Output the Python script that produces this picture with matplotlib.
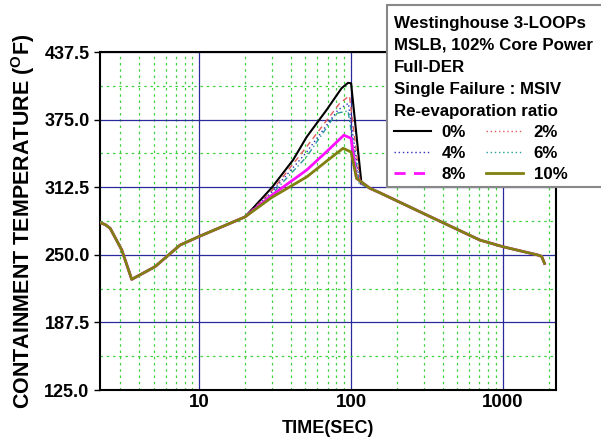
import matplotlib
matplotlib.use("Agg")
import matplotlib.pyplot as plt
from matplotlib.lines import Line2D
from matplotlib.patches import Rectangle
from matplotlib.ticker import FixedLocator, NullFormatter, FormatStrFormatter

plt.rcParams['font.family'] = ['Liberation Sans', 'DejaVu Sans']
plt.rcParams['font.weight'] = 'bold'
plt.rcParams['mathtext.fontset'] = 'custom'
plt.rcParams['mathtext.rm'] = 'Liberation Sans:bold'
plt.rcParams['mathtext.bf'] = 'Liberation Sans:bold'

# shared part before the curves split (sec, F)
t_early = [2.22, 2.4, 2.59, 3.09, 3.59, 5.11, 7.47, 10, 20]
temp_early = [279.7, 278, 274.5, 254.4, 227.3, 239, 259, 267, 285]

# shared part after the collapse
t_late = [133, 154.5, 298, 703, 1000, 1699, 1800, 1880]
temp_late = [311.5, 307.4, 288.4, 263.7, 257.5, 249.8, 248.5, 242]

# transient for each re-evaporation ratio
t_0 = [30, 41.5, 51, 69, 86.5, 95.5, 100, 117]
temp_0 = [312, 337.7, 359, 384, 404, 409, 408.6, 316]
t_2 = [30, 51, 84, 97.5, 115]
temp_2 = [309, 350, 390, 397, 316]
t_4 = [30, 51, 82, 96, 114]
temp_4 = [308, 345, 384, 390, 316]
t_6 = [30, 51, 80, 95.5, 113]
temp_6 = [306, 340.7, 380.8, 383, 316]
t_8 = [30, 51, 69, 89.6, 100, 108.6]
temp_8 = [305, 328.4, 345.4, 360.6, 357.7, 320.7]
t_10 = [30, 51, 72.5, 88.6, 100, 108.6]
temp_10 = [303, 322, 339, 348.5, 345, 320.7]

labels = ['0%', '2%', '4%', '6%', '8%', '10%']
cases = [(t_0, temp_0), (t_2, temp_2), (t_4, temp_4),
         (t_6, temp_6), (t_8, temp_8), (t_10, temp_10)]

colors = ['black', '#e05a5a', '#3030c0', '#2a9a9a', '#ff10ff', '#808010']
plot_styles = ['-', (0, (4, 3)), (0, (1, 2)), (0, (4, 2, 1, 2)), '-', '-']
leg_styles = ['-', (0, (1, 2)), (0, (1, 2)), (0, (1, 2)), (0, (4, 3)), '-']
widths = [1.5, 1.0, 1.0, 1.0, 2.0, 2.0]

W, H = 601, 443
fig = plt.figure(figsize=(W / 100, H / 100), dpi=100)
ax = fig.add_axes([0.1664, 0.1196, 0.7587, 0.763])

for i in range(6):
    tt, vv = cases[i]
    x = t_early + tt + t_late
    y = temp_early + vv + temp_late
    ax.plot(x, y, color=colors[i], linestyle=plot_styles[i], lw=widths[i], zorder=3)

ax.set_xscale('log')
ax.set_xlim(2.22, 2236)
ax.set_ylim(125, 437.5)

ax.set_yticks([125, 187.5, 250, 312.5, 375, 437.5])
ax.yaxis.set_major_formatter(FormatStrFormatter('%.1f'))
ax.yaxis.set_minor_locator(FixedLocator([156.25, 218.75, 281.25, 343.75, 406.25]))

ax.xaxis.set_major_locator(FixedLocator([10, 100, 1000]))
ax.xaxis.set_major_formatter(FormatStrFormatter('%d'))
minor_x = [3, 4, 5, 6, 7, 8, 9, 20, 30, 40, 50, 60, 70, 80, 90,
           200, 300, 400, 500, 600, 700, 800, 900, 2000]
ax.xaxis.set_minor_locator(FixedLocator(minor_x))
ax.xaxis.set_minor_formatter(NullFormatter())

ax.grid(True, which='major', color='#2a2a9a', lw=0.9, zorder=1)
ax.grid(True, which='minor', color='#40d040', lw=0.9, linestyle=(0, (2, 3)), zorder=1)

ax.tick_params(axis='y', which='major', direction='out', length=4, labelsize=13, width=1)
ax.tick_params(axis='y', which='minor', length=0)
ax.tick_params(axis='x', which='both', length=0, labelsize=13.5, pad=3)
for lab in ax.get_xticklabels() + ax.get_yticklabels():
    lab.set_fontweight('bold')

for s in ax.spines.values():
    s.set_linewidth(1.5)
    s.set_color('black')

ax.set_xlabel('TIME(SEC)', fontsize=13, fontweight='bold', labelpad=6)
ax.set_ylabel(r'CONTAINMENT TEMPERATURE ($\mathregular{^O}$F)', fontsize=15.5,
              fontweight='bold', labelpad=5)

# legend frame drawn by hand (runs off the right edge like the original)
box = Rectangle((387 / W, 1 - 187 / H), 0.4, 182 / H, transform=fig.transFigure,
                facecolor='white', edgecolor='#888888', lw=1.5, zorder=4)
fig.patches.append(box)

# row-wise legend: column 1 = 0/4/8, column 2 = 2/6/10
leg_order = [0, 2, 4, 1, 3, 5]
handles = [Line2D([], [], color=colors[i], linestyle=leg_styles[i], lw=widths[i])
           for i in leg_order]
title = ('Westinghouse 3-LOOPs\nMSLB, 102% Core Power\nFull-DER\n'
         'Single Failure : MSIV\nRe-evaporation ratio')
leg = fig.legend(handles, [labels[i] for i in leg_order], ncol=2, loc='upper left',
                 bbox_to_anchor=(394 / W, 1 - 16 / H), title=title, alignment='left',
                 prop={'size': 12.2, 'weight': 'bold'}, handlelength=2.2,
                 handletextpad=0.6, columnspacing=1.2, labelspacing=0.36,
                 borderpad=0, borderaxespad=0, frameon=False)
leg.set_zorder(5)
leg.get_title().set_fontweight('bold')
leg.get_title().set_fontsize(12.2)
leg.get_title().set_linespacing(1.58)

fig.savefig('out.png', dpi=100)
